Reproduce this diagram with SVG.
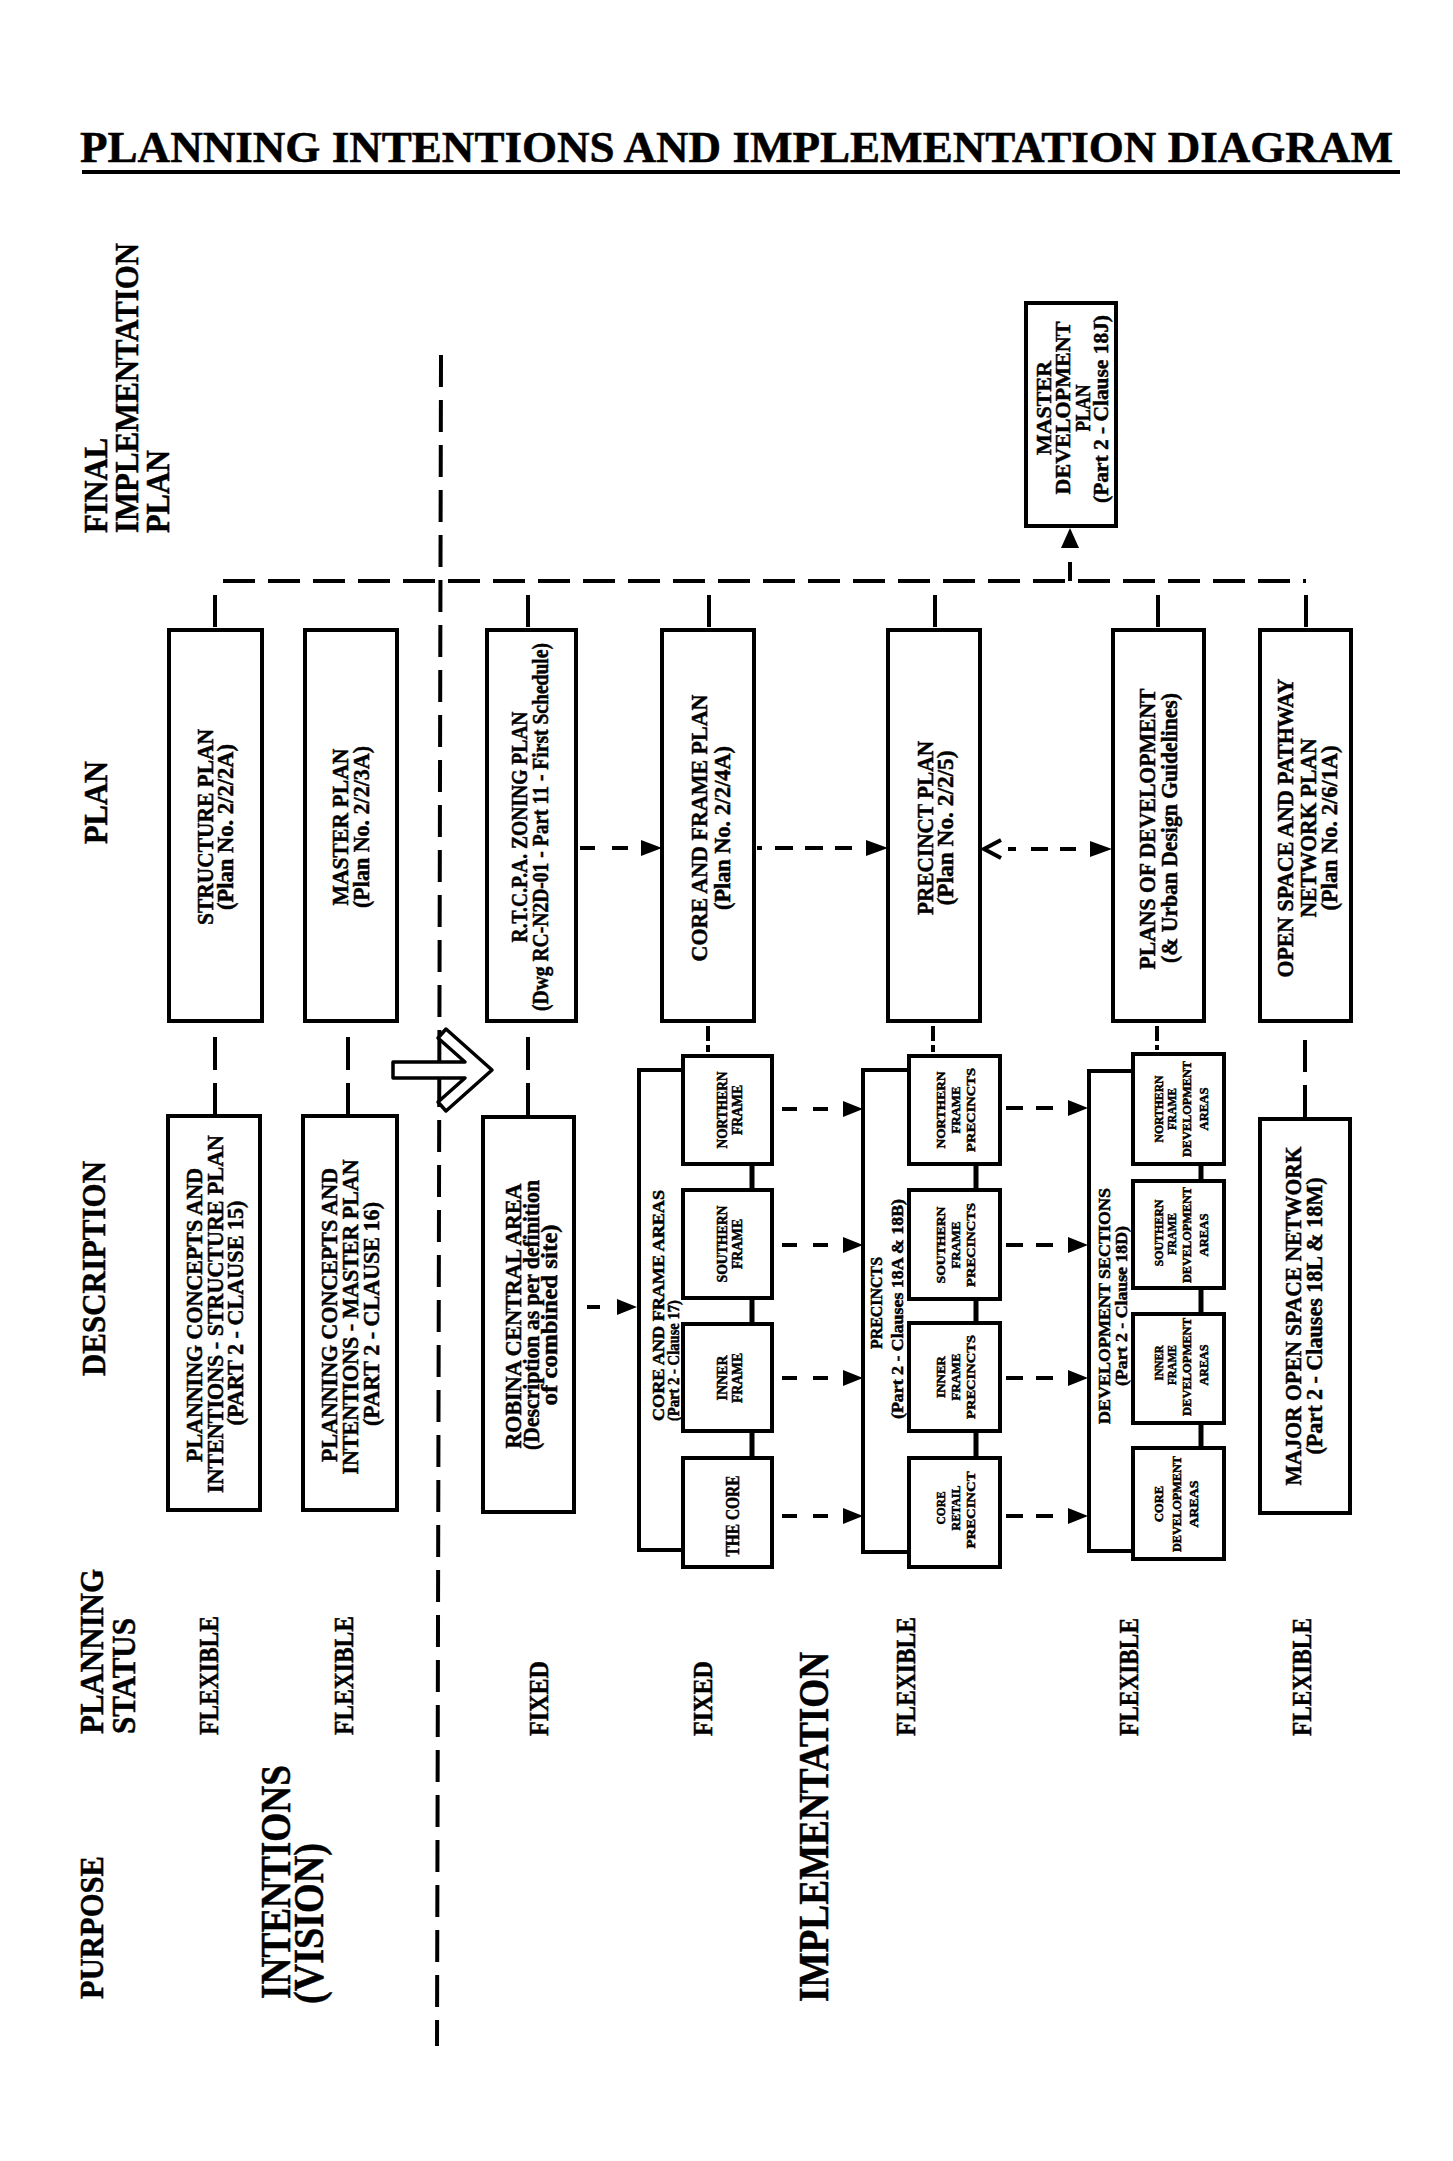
<svg xmlns="http://www.w3.org/2000/svg" width="1453" height="2161" viewBox="0 0 1453 2161">
<style>
text{font-family:"Liberation Serif","Times New Roman",serif;font-weight:bold;fill:#000;stroke:#000;stroke-width:0.5}
.m{text-anchor:middle}
.box{fill:#fff;stroke:#000;stroke-width:4}
.ln{stroke:#000;stroke-width:4;fill:none}
.th{stroke:#000;stroke-width:5;fill:none}
.dl{stroke:#000;stroke-width:4;fill:none;stroke-dasharray:32 13}
.ah{fill:#000}
</style>
<rect width="1453" height="2161" fill="#fff"/>

<g id="title">
<text x="80" y="162" font-size="45" textLength="1313" lengthAdjust="spacingAndGlyphs" stroke-width="0.8">PLANNING INTENTIONS AND IMPLEMENTATION DIAGRAM</text>
<rect x="82" y="170" width="1318" height="4" fill="#000"/>
</g>

<g id="headers" font-size="34">
<text x="107" y="533" transform="rotate(-90 107 533)" textLength="95" lengthAdjust="spacingAndGlyphs">FINAL</text>
<text x="138" y="533" transform="rotate(-90 138 533)" textLength="290" lengthAdjust="spacingAndGlyphs">IMPLEMENTATION</text>
<text x="169" y="533" transform="rotate(-90 169 533)" textLength="83" lengthAdjust="spacingAndGlyphs">PLAN</text>
<text x="107" y="844" transform="rotate(-90 107 844)" textLength="83" lengthAdjust="spacingAndGlyphs">PLAN</text>
<text x="105" y="1376" transform="rotate(-90 105 1376)" textLength="215" lengthAdjust="spacingAndGlyphs">DESCRIPTION</text>
<text x="103" y="1734" transform="rotate(-90 103 1734)" textLength="165" lengthAdjust="spacingAndGlyphs">PLANNING</text>
<text x="135" y="1734" transform="rotate(-90 135 1734)" textLength="116" lengthAdjust="spacingAndGlyphs">STATUS</text>
<text x="103" y="1999" transform="rotate(-90 103 1999)" textLength="143" lengthAdjust="spacingAndGlyphs">PURPOSE</text>
</g>

<g id="status" font-size="27">
<text x="218" y="1735" transform="rotate(-90 218 1735)" textLength="119" lengthAdjust="spacingAndGlyphs">FLEXIBLE</text>
<text x="353" y="1735" transform="rotate(-90 353 1735)" textLength="119" lengthAdjust="spacingAndGlyphs">FLEXIBLE</text>
<text x="548" y="1736" transform="rotate(-90 548 1736)" textLength="75" lengthAdjust="spacingAndGlyphs">FIXED</text>
<text x="712" y="1736" transform="rotate(-90 712 1736)" textLength="75" lengthAdjust="spacingAndGlyphs">FIXED</text>
<text x="915" y="1736" transform="rotate(-90 915 1736)" textLength="119" lengthAdjust="spacingAndGlyphs">FLEXIBLE</text>
<text x="1138" y="1736" transform="rotate(-90 1138 1736)" textLength="118" lengthAdjust="spacingAndGlyphs">FLEXIBLE</text>
<text x="1311" y="1736" transform="rotate(-90 1311 1736)" textLength="118" lengthAdjust="spacingAndGlyphs">FLEXIBLE</text>
</g>

<g id="purpose" font-size="42">
<text x="290" y="1999" transform="rotate(-90 290 1999)" textLength="234" lengthAdjust="spacingAndGlyphs">INTENTIONS</text>
<text x="323" y="2004" transform="rotate(-90 323 2004)" textLength="161" lengthAdjust="spacingAndGlyphs">(VISION)</text>
<text x="828" y="2002" transform="rotate(-90 828 2002)" textLength="350" lengthAdjust="spacingAndGlyphs">IMPLEMENTATION</text>
</g>

<g id="connectors">
<line class="dl" x1="223" y1="581" x2="1306" y2="581"/>
<line class="dl" x1="441" y1="355" x2="437" y2="2046"/>
<path class="ln" d="M215,595V627M528,595V627M709,595V627M935,595V627M1158,595V627M1306,595V627"/>
<line class="ln" x1="1070" y1="562" x2="1070" y2="581"/>
<polygon class="ah" points="1070,528 1061,548 1079,548"/>
<path class="ln" d="M215,1037V1070M215,1083V1114M348,1037V1070M348,1083V1114M528,1037V1070M528,1083V1115M1305,1040V1072M1305,1085V1117"/>
<path class="ln" d="M708,1026V1041M708,1045V1052M933,1026V1041M933,1045V1052M1157,1026V1041M1157,1045V1050"/>
<path class="ln" d="M580,848H595M612,848H628M757,848H762M775,848H793M805,848H823M835,848H852M1008,849H1016M1031,849H1048M1060,849H1076"/>
<polygon class="ah" points="662,848 641,840 641,856"/>
<polygon class="ah" points="888,848 866,840 866,856"/>
<polygon class="ah" points="1112,849 1090,841 1090,857"/>
<polyline class="ln" points="1001,840 984,849 1001,858"/>
<path class="ln" d="M587,1307H600"/>
<polygon class="ah" points="637,1307 617,1299 617,1315"/>
<path class="ln" d="M782,1109H797M813,1109H828M782,1245H797M813,1245H828M782,1378H797M813,1378H828M782,1516H797M813,1516H828"/>
<polygon class="ah" points="863,1109 843,1101 843,1117"/>
<polygon class="ah" points="863,1245 843,1237 843,1253"/>
<polygon class="ah" points="863,1378 843,1370 843,1386"/>
<polygon class="ah" points="863,1516 843,1508 843,1524"/>
<path class="ln" d="M1006,1108H1023M1036,1108H1053M1006,1245H1023M1036,1245H1053M1006,1378H1023M1036,1378H1053M1006,1516H1023M1036,1516H1053"/>
<polygon class="ah" points="1088,1108 1068,1100 1068,1116"/>
<polygon class="ah" points="1088,1245 1068,1237 1068,1253"/>
<polygon class="ah" points="1088,1378 1068,1370 1068,1386"/>
<polygon class="ah" points="1088,1516 1068,1508 1068,1524"/>
<path d="M393,1062L465,1062L438,1038L446,1029L492,1070L446,1111L438,1102L465,1078L393,1078Z" fill="#fff" stroke="#000" stroke-width="3.5" stroke-linejoin="round"/>
<path class="th" d="M752,1164V1190M752,1298V1324M752,1431V1458M976,1164V1190M976,1299V1323M976,1431V1458M1201,1164V1181M1201,1288V1314M1201,1423V1448"/>
</g>

<g id="master-development-plan">
<rect class="box" x="1026" y="303" width="90" height="223"/>
<g font-size="22" class="m">
<text x="1051" y="408" transform="rotate(-90 1051 408)" textLength="94" lengthAdjust="spacingAndGlyphs">MASTER</text>
<text x="1070" y="408" transform="rotate(-90 1070 408)" textLength="173" lengthAdjust="spacingAndGlyphs">DEVELOPMENT</text>
<text x="1090" y="408" transform="rotate(-90 1090 408)" textLength="47" lengthAdjust="spacingAndGlyphs">PLAN</text>
<text x="1108" y="409" transform="rotate(-90 1108 409)" textLength="188" lengthAdjust="spacingAndGlyphs">(Part 2 - Clause 18J)</text>
</g>
</g>

<g id="structure-plan">
<rect class="box" x="169" y="630" width="93" height="391"/>
<g font-size="24" class="m">
<text x="213" y="827" transform="rotate(-90 213 827)" textLength="196" lengthAdjust="spacingAndGlyphs">STRUCTURE PLAN</text>
<text x="233" y="827" transform="rotate(-90 233 827)" textLength="166" lengthAdjust="spacingAndGlyphs">(Plan No. 2/2/2A)</text>
</g>
</g>

<g id="master-plan">
<rect class="box" x="305" y="630" width="92" height="391"/>
<g font-size="24" class="m">
<text x="348" y="827" transform="rotate(-90 348 827)" textLength="157" lengthAdjust="spacingAndGlyphs">MASTER PLAN</text>
<text x="369" y="827" transform="rotate(-90 369 827)" textLength="162" lengthAdjust="spacingAndGlyphs">(Plan No. 2/2/3A)</text>
</g>
</g>

<g id="zoning-plan">
<rect class="box" x="487" y="630" width="89" height="391"/>
<g font-size="24" class="m">
<text x="527" y="827" transform="rotate(-90 527 827)" textLength="231" lengthAdjust="spacingAndGlyphs">R.T.C.P.A. ZONING PLAN</text>
<text x="548" y="827" transform="rotate(-90 548 827)" textLength="368" lengthAdjust="spacingAndGlyphs">(Dwg RC-N2D-01 - Part 11 - First Schedule)</text>
</g>
</g>

<g id="core-frame-plan">
<rect class="box" x="662" y="630" width="92" height="391"/>
<g font-size="24" class="m">
<text x="707" y="828" transform="rotate(-90 707 828)" textLength="267" lengthAdjust="spacingAndGlyphs">CORE AND FRAME PLAN</text>
<text x="730" y="828" transform="rotate(-90 730 828)" textLength="164" lengthAdjust="spacingAndGlyphs">(Plan No. 2/2/4A)</text>
</g>
</g>

<g id="precinct-plan">
<rect class="box" x="888" y="630" width="92" height="391"/>
<g font-size="24" class="m">
<text x="933" y="828" transform="rotate(-90 933 828)" textLength="174" lengthAdjust="spacingAndGlyphs">PRECINCT PLAN</text>
<text x="953" y="828" transform="rotate(-90 953 828)" textLength="155" lengthAdjust="spacingAndGlyphs">(Plan No. 2/2/5)</text>
</g>
</g>

<g id="plans-of-development">
<rect class="box" x="1113" y="630" width="91" height="391"/>
<g font-size="24" class="m">
<text x="1155" y="829" transform="rotate(-90 1155 829)" textLength="281" lengthAdjust="spacingAndGlyphs">PLANS OF DEVELOPMENT</text>
<text x="1177" y="828" transform="rotate(-90 1177 828)" textLength="270" lengthAdjust="spacingAndGlyphs">(&amp; Urban Design Guidelines)</text>
</g>
</g>

<g id="open-space-plan">
<rect class="box" x="1260" y="630" width="91" height="391"/>
<g font-size="24" class="m">
<text x="1293" y="828" transform="rotate(-90 1293 828)" textLength="299" lengthAdjust="spacingAndGlyphs">OPEN SPACE AND PATHWAY</text>
<text x="1316" y="828" transform="rotate(-90 1316 828)" textLength="179" lengthAdjust="spacingAndGlyphs">NETWORK PLAN</text>
<text x="1337" y="828" transform="rotate(-90 1337 828)" textLength="165" lengthAdjust="spacingAndGlyphs">(Plan No. 2/6/1A)</text>
</g>
</g>

<g id="structure-description">
<rect class="box" x="168" y="1116" width="92" height="394"/>
<g font-size="24" class="m">
<text x="202" y="1315" transform="rotate(-90 202 1315)" textLength="294" lengthAdjust="spacingAndGlyphs">PLANNING CONCEPTS AND</text>
<text x="223" y="1314" transform="rotate(-90 223 1314)" textLength="358" lengthAdjust="spacingAndGlyphs">INTENTIONS - STRUCTURE PLAN</text>
<text x="243" y="1313" transform="rotate(-90 243 1313)" textLength="225" lengthAdjust="spacingAndGlyphs">(PART 2 - CLAUSE 15)</text>
</g>
</g>

<g id="master-description">
<rect class="box" x="303" y="1116" width="94" height="394"/>
<g font-size="24" class="m">
<text x="337" y="1315" transform="rotate(-90 337 1315)" textLength="294" lengthAdjust="spacingAndGlyphs">PLANNING CONCEPTS AND</text>
<text x="358" y="1317" transform="rotate(-90 358 1317)" textLength="315" lengthAdjust="spacingAndGlyphs">INTENTIONS - MASTER PLAN</text>
<text x="379" y="1314" transform="rotate(-90 379 1314)" textLength="224" lengthAdjust="spacingAndGlyphs">(PART 2 - CLAUSE 16)</text>
</g>
</g>

<g id="robina-central-area">
<rect class="box" x="483" y="1117" width="91" height="395"/>
<g font-size="24" class="m">
<text x="521" y="1316" transform="rotate(-90 521 1316)" textLength="265" lengthAdjust="spacingAndGlyphs">ROBINA CENTRAL AREA</text>
<text x="539" y="1315" transform="rotate(-90 539 1315)" textLength="270" lengthAdjust="spacingAndGlyphs">(Description as per definition</text>
<text x="557" y="1315" transform="rotate(-90 557 1315)" textLength="181" lengthAdjust="spacingAndGlyphs">of combined site)</text>
</g>
</g>

<g id="core-frame-areas">
<path class="ln" d="M683,1070H639V1550H683"/>
<g font-size="17">
<text x="664" y="1421" transform="rotate(-90 664 1421)" textLength="231" lengthAdjust="spacingAndGlyphs">CORE AND FRAME AREAS</text>
<text x="679" y="1421" transform="rotate(-90 679 1421)" textLength="121" lengthAdjust="spacingAndGlyphs">(Part 2 - Clause 17)</text>
</g>
<rect class="box" x="683" y="1056" width="89" height="108"/>
<rect class="box" x="683" y="1190" width="89" height="108"/>
<rect class="box" x="683" y="1324" width="89" height="107"/>
<rect class="box" x="683" y="1458" width="89" height="109"/>
<g font-size="14" class="m">
<text x="727" y="1110" transform="rotate(-90 727 1110)" textLength="77" lengthAdjust="spacingAndGlyphs">NORTHERN</text>
<text x="742" y="1110" transform="rotate(-90 742 1110)" textLength="50" lengthAdjust="spacingAndGlyphs">FRAME</text>
<text x="727" y="1244" transform="rotate(-90 727 1244)" textLength="77" lengthAdjust="spacingAndGlyphs">SOUTHERN</text>
<text x="742" y="1244" transform="rotate(-90 742 1244)" textLength="50" lengthAdjust="spacingAndGlyphs">FRAME</text>
<text x="727" y="1378" transform="rotate(-90 727 1378)" textLength="45" lengthAdjust="spacingAndGlyphs">INNER</text>
<text x="742" y="1378" transform="rotate(-90 742 1378)" textLength="50" lengthAdjust="spacingAndGlyphs">FRAME</text>
<text x="739" y="1516" transform="rotate(-90 739 1516)" textLength="81" lengthAdjust="spacingAndGlyphs" font-size="18">THE CORE</text>
</g>
</g>

<g id="precincts">
<path class="ln" d="M909,1070H863V1552H909"/>
<g font-size="17" class="m">
<text x="882" y="1303" transform="rotate(-90 882 1303)" textLength="92" lengthAdjust="spacingAndGlyphs">PRECINCTS</text>
<text x="903" y="1309" transform="rotate(-90 903 1309)" textLength="220" lengthAdjust="spacingAndGlyphs">(Part 2 - Clauses 18A &amp; 18B)</text>
</g>
<rect class="box" x="909" y="1056" width="91" height="108"/>
<rect class="box" x="909" y="1190" width="91" height="109"/>
<rect class="box" x="909" y="1323" width="91" height="108"/>
<rect class="box" x="909" y="1458" width="91" height="109"/>
<g font-size="13" class="m">
<text x="945" y="1110" transform="rotate(-90 945 1110)" textLength="77" lengthAdjust="spacingAndGlyphs">NORTHERN</text>
<text x="960" y="1110" transform="rotate(-90 960 1110)" textLength="47" lengthAdjust="spacingAndGlyphs">FRAME</text>
<text x="975" y="1110" transform="rotate(-90 975 1110)" textLength="84" lengthAdjust="spacingAndGlyphs">PRECINCTS</text>
<text x="945" y="1245" transform="rotate(-90 945 1245)" textLength="77" lengthAdjust="spacingAndGlyphs">SOUTHERN</text>
<text x="960" y="1245" transform="rotate(-90 960 1245)" textLength="47" lengthAdjust="spacingAndGlyphs">FRAME</text>
<text x="975" y="1245" transform="rotate(-90 975 1245)" textLength="84" lengthAdjust="spacingAndGlyphs">PRECINCTS</text>
<text x="945" y="1377" transform="rotate(-90 945 1377)" textLength="42" lengthAdjust="spacingAndGlyphs">INNER</text>
<text x="960" y="1377" transform="rotate(-90 960 1377)" textLength="47" lengthAdjust="spacingAndGlyphs">FRAME</text>
<text x="975" y="1377" transform="rotate(-90 975 1377)" textLength="84" lengthAdjust="spacingAndGlyphs">PRECINCTS</text>
<text x="945" y="1508" transform="rotate(-90 945 1508)" textLength="33" lengthAdjust="spacingAndGlyphs">CORE</text>
<text x="960" y="1508" transform="rotate(-90 960 1508)" textLength="45" lengthAdjust="spacingAndGlyphs">RETAIL</text>
<text x="975" y="1510" transform="rotate(-90 975 1510)" textLength="77" lengthAdjust="spacingAndGlyphs">PRECINCT</text>
</g>
</g>

<g id="development-sections">
<path class="ln" d="M1133,1071H1089V1551H1133"/>
<g font-size="17" class="m">
<text x="1110" y="1306" transform="rotate(-90 1110 1306)" textLength="236" lengthAdjust="spacingAndGlyphs">DEVELOPMENT SECTIONS</text>
<text x="1127" y="1306" transform="rotate(-90 1127 1306)" textLength="160" lengthAdjust="spacingAndGlyphs">(Part 2 - Clause 18D)</text>
</g>
<rect class="box" x="1133" y="1054" width="91" height="110"/>
<rect class="box" x="1133" y="1181" width="91" height="107"/>
<rect class="box" x="1133" y="1314" width="91" height="109"/>
<rect class="box" x="1133" y="1448" width="91" height="111"/>
<g font-size="12" class="m">
<text x="1163" y="1109" transform="rotate(-90 1163 1109)" textLength="67" lengthAdjust="spacingAndGlyphs">NORTHERN</text>
<text x="1176" y="1109" transform="rotate(-90 1176 1109)" textLength="42" lengthAdjust="spacingAndGlyphs">FRAME</text>
<text x="1191" y="1109" transform="rotate(-90 1191 1109)" textLength="96" lengthAdjust="spacingAndGlyphs">DEVELOPMENT</text>
<text x="1208" y="1109" transform="rotate(-90 1208 1109)" textLength="43" lengthAdjust="spacingAndGlyphs">AREAS</text>
<text x="1163" y="1233" transform="rotate(-90 1163 1233)" textLength="67" lengthAdjust="spacingAndGlyphs">SOUTHERN</text>
<text x="1176" y="1234" transform="rotate(-90 1176 1234)" textLength="42" lengthAdjust="spacingAndGlyphs">FRAME</text>
<text x="1191" y="1235" transform="rotate(-90 1191 1235)" textLength="96" lengthAdjust="spacingAndGlyphs">DEVELOPMENT</text>
<text x="1208" y="1235" transform="rotate(-90 1208 1235)" textLength="43" lengthAdjust="spacingAndGlyphs">AREAS</text>
<text x="1163" y="1363" transform="rotate(-90 1163 1363)" textLength="35" lengthAdjust="spacingAndGlyphs">INNER</text>
<text x="1176" y="1365" transform="rotate(-90 1176 1365)" textLength="40" lengthAdjust="spacingAndGlyphs">FRAME</text>
<text x="1191" y="1367" transform="rotate(-90 1191 1367)" textLength="98" lengthAdjust="spacingAndGlyphs">DEVELOPMENT</text>
<text x="1208" y="1365" transform="rotate(-90 1208 1365)" textLength="41" lengthAdjust="spacingAndGlyphs">AREAS</text>
<text x="1163" y="1504" transform="rotate(-90 1163 1504)" textLength="36" lengthAdjust="spacingAndGlyphs">CORE</text>
<text x="1181" y="1504" transform="rotate(-90 1181 1504)" textLength="96" lengthAdjust="spacingAndGlyphs">DEVELOPMENT</text>
<text x="1198" y="1504" transform="rotate(-90 1198 1504)" textLength="47" lengthAdjust="spacingAndGlyphs">AREAS</text>
</g>
</g>

<g id="major-open-space-network">
<rect class="box" x="1260" y="1119" width="90" height="394"/>
<g font-size="24" class="m">
<text x="1301" y="1316" transform="rotate(-90 1301 1316)" textLength="339" lengthAdjust="spacingAndGlyphs">MAJOR OPEN SPACE NETWORK</text>
<text x="1322" y="1316" transform="rotate(-90 1322 1316)" textLength="277" lengthAdjust="spacingAndGlyphs">(Part 2 - Clauses 18L &amp; 18M)</text>
</g>
</g>
</svg>
